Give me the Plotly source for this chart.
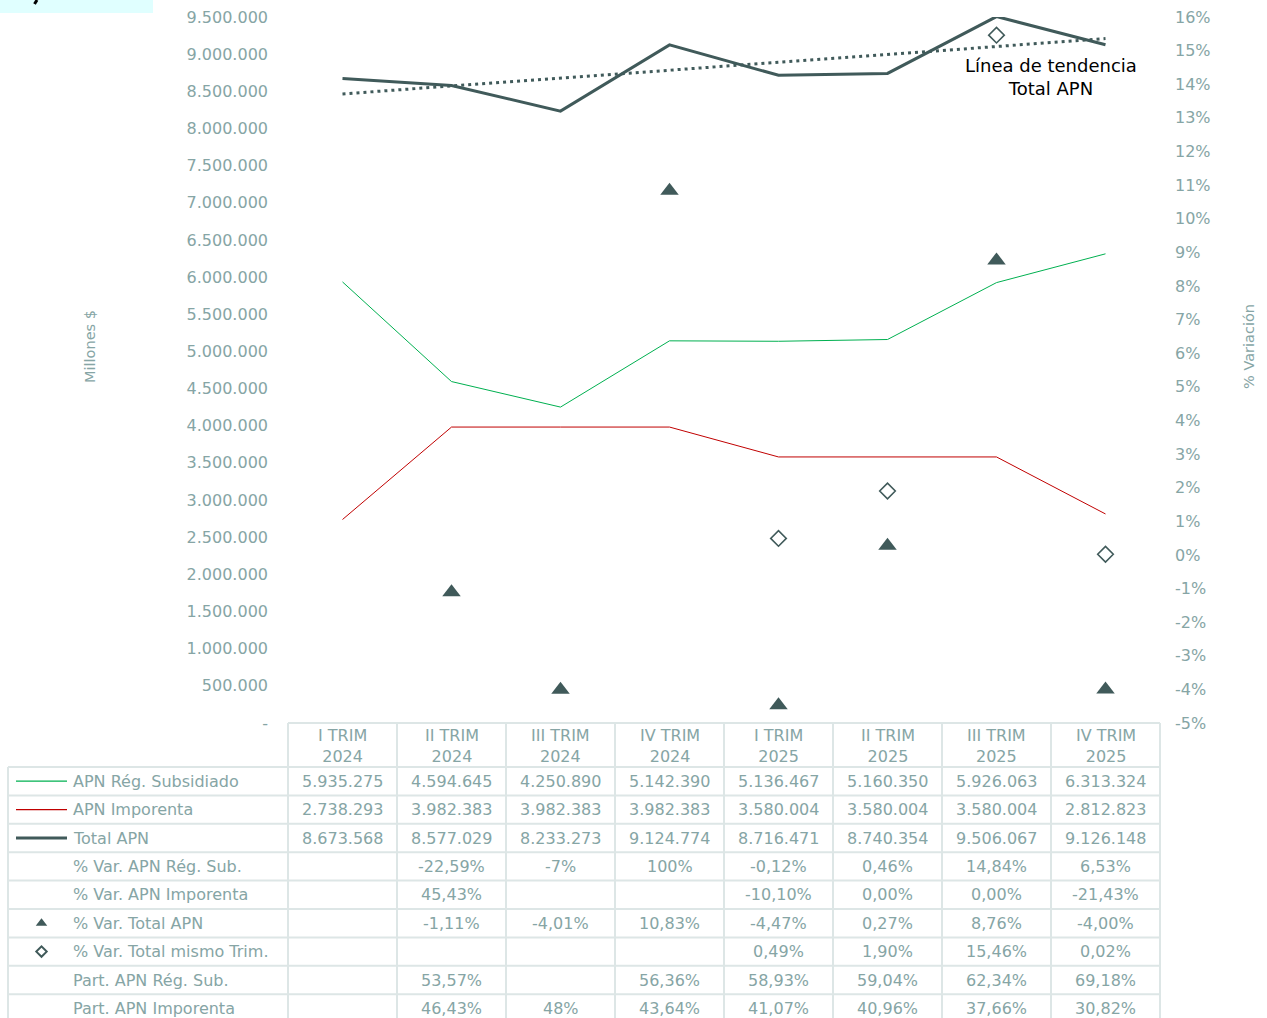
import numpy as np
import plotly.graph_objects as go

# ---------------- data ----------------
quarters = ["I TRIM<br>2024", "II TRIM<br>2024", "III TRIM<br>2024", "IV TRIM<br>2024",
            "I TRIM<br>2025", "II TRIM<br>2025", "III TRIM<br>2025", "IV TRIM<br>2025"]
apn_subsidiado = [5935275, 4594645, 4250890, 5142390, 5136467, 5160350, 5926063, 6313324]
apn_imporenta = [2738293, 3982383, 3982383, 3982383, 3580004, 3580004, 3580004, 2812823]
total_apn = [8673568, 8577029, 8233273, 9124774, 8716471, 8740354, 9506067, 9126148]
var_total = [None, -1.11, -4.01, 10.83, -4.47, 0.27, 8.76, -4.00]
var_mismo_trim = [None, None, None, None, 0.49, 1.90, 15.46, 0.02]
var_sub_txt = ["", "-22,59%", "-7%", "100%", "-0,12%", "0,46%", "14,84%", "6,53%"]
var_imp_txt = ["", "45,43%", "", "", "-10,10%", "0,00%", "0,00%", "-21,43%"]
part_sub_txt = ["", "53,57%", "", "56,36%", "58,93%", "59,04%", "62,34%", "69,18%"]
part_imp_txt = ["", "46,43%", "48%", "43,64%", "41,07%", "40,96%", "37,66%", "30,82%"]
row_labels = ["APN Rég. Subsidiado", "APN Imporenta", "Total APN", "% Var. APN Rég. Sub.",
              "% Var. APN Imporenta", "% Var. Total APN", "% Var. Total mismo Trim.",
              "Part. APN Rég. Sub.", "Part. APN Imporenta"]
left_ticks = list(range(0, 9500001, 500000))
right_ticks = list(range(-5, 17))

# ---------------- styling ----------------
W, H = 1267, 1018
FONT = "DejaVu Sans"
TXT = "#86a5a5"
GRID = "#dde6e6"
DARK = "#405a5a"
GREEN = "#00b050"
RED = "#c00000"

plot_l, plot_r, plot_t, plot_b = 288, 1160, 17, 723
col_w = (plot_r - plot_l) / 8
head_b = 767
row_h = 28.4
tab_l = 8


def px(x):
    return x / W


def py(y):
    return 1 - y / H


def thousands(v):
    return f"{v:,}".replace(",", ".")


def pct(v):
    return "" if v is None else f"{v:.2f}%".replace(".", ",")


xs = list(range(len(quarters)))

fig = go.Figure()
fig.add_trace(go.Scatter(x=xs, y=apn_subsidiado, mode="lines", line=dict(color=GREEN, width=1),
                         name="APN Rég. Subsidiado"))
fig.add_trace(go.Scatter(x=xs, y=apn_imporenta, mode="lines", line=dict(color=RED, width=1),
                         name="APN Imporenta"))
fig.add_trace(go.Scatter(x=xs, y=total_apn, mode="lines", line=dict(color=DARK, width=3),
                         name="Total APN"))
coef = np.polyfit(np.array(xs, dtype=float), np.array(total_apn, dtype=float), 1)
trend = np.polyval(coef, np.array(xs, dtype=float))
fig.add_trace(go.Scatter(x=xs, y=trend, mode="lines", line=dict(color=DARK, width=3, dash="3px,4px"),
                         name="Tendencia"))
fig.add_trace(go.Scatter(x=xs, y=var_total, mode="markers", yaxis="y2",
                         marker=dict(symbol="triangle-up", size=16, color=DARK),
                         name="% Var. Total APN"))
fig.add_trace(go.Scatter(x=xs, y=var_mismo_trim, mode="markers", yaxis="y2",
                         marker=dict(symbol="diamond-open", size=12, color=DARK, line=dict(width=1.6, color=DARK)),
                         name="% Var. Total mismo Trim."))

shapes = []
annotations = []

# top-left cut title block
shapes.append(dict(type="rect", xref="paper", yref="paper", x0=0, x1=px(153), y0=py(13), y1=1,
                   fillcolor="#e0ffff", line=dict(width=0), layer="below"))
shapes.append(dict(type="line", xref="paper", yref="paper", x0=px(37), x1=px(34.5), y0=1, y1=py(4),
                   line=dict(color="black", width=3)))

# table grid
bottom = H + 5
shapes.append(dict(type="line", xref="paper", yref="paper", x0=px(plot_l), x1=px(plot_r),
                   y0=py(plot_b), y1=py(plot_b), line=dict(color=GRID, width=2)))
for i in range(len(row_labels)):
    y = head_b + row_h * i
    shapes.append(dict(type="line", xref="paper", yref="paper", x0=px(tab_l), x1=px(plot_r),
                       y0=py(y), y1=py(y), line=dict(color=GRID, width=2)))
for k in range(len(quarters) + 1):
    x = plot_l + col_w * k
    shapes.append(dict(type="line", xref="paper", yref="paper", x0=px(x), x1=px(x),
                       y0=py(plot_b), y1=py(bottom), line=dict(color=GRID, width=2)))
shapes.append(dict(type="line", xref="paper", yref="paper", x0=px(tab_l), x1=px(tab_l),
                   y0=py(head_b), y1=py(bottom), line=dict(color=GRID, width=2)))

# header
for i, q in enumerate(quarters):
    annotations.append(dict(x=i, xref="x", y=py((plot_b + head_b) / 2 + 1), yref="paper", text=q,
                            showarrow=False, font=dict(family=FONT, size=16, color=TXT),
                            xanchor="center", yanchor="middle"))

rows = [
    [thousands(v) for v in apn_subsidiado],
    [thousands(v) for v in apn_imporenta],
    [thousands(v) for v in total_apn],
    var_sub_txt,
    var_imp_txt,
    [pct(v) for v in var_total],
    [pct(v) for v in var_mismo_trim],
    part_sub_txt,
    part_imp_txt,
]
for r, (lab, vals) in enumerate(zip(row_labels, rows)):
    yc = head_b + row_h * (r + 0.5)
    annotations.append(dict(x=px(71), xref="paper", y=py(yc), yref="paper", text=lab, showarrow=False,
                            font=dict(family=FONT, size=16, color=TXT), xanchor="left", yanchor="middle"))
    for i, t in enumerate(vals):
        if t:
            annotations.append(dict(x=i, xref="x", y=py(yc), yref="paper", text=t, showarrow=False,
                                    font=dict(family=FONT, size=16, color=TXT),
                                    xanchor="center", yanchor="middle"))

# legend keys in table
key_styles = [(GREEN, 1.2), (RED, 1.2), (DARK, 3)]
for r, (c, w) in enumerate(key_styles):
    yc = head_b + row_h * (r + 0.5)
    shapes.append(dict(type="line", xref="paper", yref="paper", x0=px(16), x1=px(67), y0=py(yc), y1=py(yc),
                       line=dict(color=c, width=w)))
fig.add_trace(go.Scatter(x=[px(41.5)], y=[py(head_b + row_h * 5.5)], xaxis="x3", yaxis="y3", mode="markers",
                         marker=dict(symbol="triangle-up", size=10, color=DARK), showlegend=False,
                         hoverinfo="skip"))
fig.add_trace(go.Scatter(x=[px(41.5)], y=[py(head_b + row_h * 6.5)], xaxis="x3", yaxis="y3", mode="markers",
                         marker=dict(symbol="diamond-open", size=8, color=DARK, line=dict(width=2, color=DARK)),
                         showlegend=False, hoverinfo="skip"))

# trend label
annotations.append(dict(x=px(1051), xref="paper", y=py(77), yref="paper",
                        text="Línea de tendencia<br>Total APN", showarrow=False,
                        font=dict(family=FONT, size=18, color="black"), xanchor="center", yanchor="middle"))

# axis titles
annotations.append(dict(x=px(90), xref="paper", y=py(347), yref="paper", text="Millones $", textangle=-90,
                        showarrow=False, font=dict(family=FONT, size=14.5, color=TXT),
                        xanchor="center", yanchor="middle"))
annotations.append(dict(x=px(1249), xref="paper", y=py(347), yref="paper", text="% Variación", textangle=-90,
                        showarrow=False, font=dict(family=FONT, size=14.5, color=TXT),
                        xanchor="center", yanchor="middle"))

fig.update_layout(
    width=W, height=H, autosize=False, margin=dict(l=0, r=0, t=0, b=0, pad=0, autoexpand=False),
    paper_bgcolor="white", plot_bgcolor="rgba(0,0,0,0)",
    showlegend=False,
    font=dict(family=FONT, size=16, color=TXT),
    xaxis=dict(domain=[px(plot_l), px(plot_r)], range=[-0.5, 7.5], visible=False, fixedrange=True,
               automargin=False),
    yaxis=dict(domain=[py(plot_b), py(plot_t)], range=[0, 9500000], tickvals=left_ticks,
               ticktext=["-" if v == 0 else thousands(v) for v in left_ticks],
               showgrid=False, zeroline=False, showline=False, ticks="", automargin=False,
               tickfont=dict(family=FONT, size=16, color=TXT), ticklabelstandoff=19),
    yaxis2=dict(domain=[py(plot_b), py(plot_t)], overlaying="y", side="right", range=[-5, 16],
                tickvals=right_ticks, ticktext=[f"{v}%" for v in right_ticks], automargin=False,
                showgrid=False, zeroline=False, showline=False, ticks="",
                tickfont=dict(family=FONT, size=16, color=TXT), ticklabelstandoff=14),
    xaxis3=dict(domain=[0, 1], range=[0, 1], visible=False, anchor="y3", automargin=False),
    yaxis3=dict(domain=[0, 1], range=[0, 1], visible=False, anchor="x3", automargin=False),
    shapes=shapes, annotations=annotations,
)

fig.write_html("out.html", config={"displayModeBar": False, "responsive": False},
               post_script="document.body.style.margin='0';document.body.style.padding='0';"
                           "document.documentElement.style.overflow='hidden';")
